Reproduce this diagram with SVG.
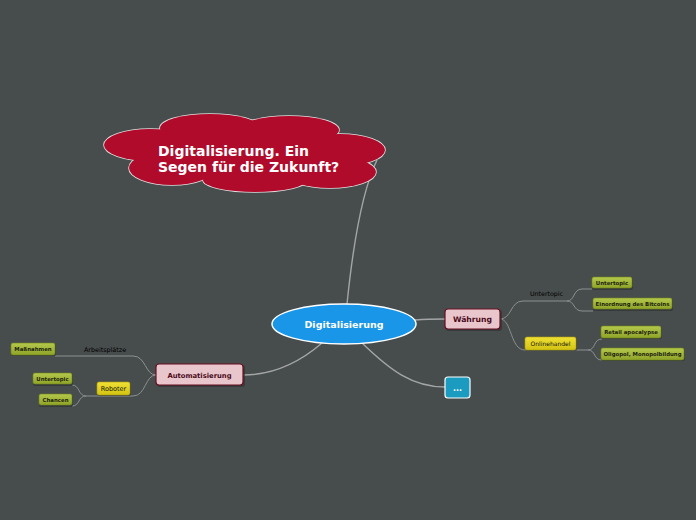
<svg xmlns="http://www.w3.org/2000/svg" width="696" height="520" viewBox="0 0 696 520">
<style>
.main{fill:none;stroke:#a4a6a6;stroke-width:1.4}
.sub{fill:none;stroke:#8c9090;stroke-width:1}
.t{font-family:"DejaVu Sans","Liberation Sans",sans-serif}
.green rect.b{fill:url(#gg);stroke:#74881c;stroke-width:0.6}
.yellow rect.b{fill:url(#yg);stroke:#b0a010;stroke-width:0.6}
.sh{fill:#2f3333;opacity:0.7}
.gt{font-size:5.4px;font-weight:bold;fill:#1e2410}
.pink rect.b{fill:#e8c6cb;stroke:#6a0f24;stroke-width:1.2}
.pt{font-weight:bold;fill:#4c0a1a}
</style>
<defs>
<linearGradient id="gg" x1="0" y1="0" x2="0" y2="1"><stop offset="0" stop-color="#b4c94c"/><stop offset="1" stop-color="#8ea328"/></linearGradient>
<linearGradient id="yg" x1="0" y1="0" x2="0" y2="1"><stop offset="0" stop-color="#efe034"/><stop offset="1" stop-color="#d2c312"/></linearGradient>
</defs>
<rect width="696" height="520" fill="#474c4c"/>

<g id="connectors">
<path class="main" d="M347,304 C352,255 360,195 377,160"/>
<path class="main" d="M415,320 C428,319 435,319 445,319"/>
<path class="main" d="M362,343 C390,370 412,387 445,387"/>
<path class="main" d="M322,343 C300,362 275,375 243,375"/>
<path class="sub" d="M500,319 C512,319 510,301 523,301 L567,301"/>
<path class="sub" d="M500,319 C512,319 510,350 525,350 L588,350"/>
<path class="sub" d="M567,301 C575,301 573,289 582,289 L592,289"/>
<path class="sub" d="M567,301 C575,301 573,311 582,311 L593,311"/>
<path class="sub" d="M588,350 C596,350 593,339 602,339"/>
<path class="sub" d="M588,350 C596,350 593,360 602,360"/>
<path class="sub" d="M156,375 C145,375 146,356 133,356 L55,356"/>
<path class="sub" d="M156,375 C145,375 146,396 133,396 L86,396"/>
<path class="sub" d="M86,396 C78,396 80,385 72,385"/>
<path class="sub" d="M86,396 C78,396 80,406 72,406"/>
</g>

<g id="cloud">
<g fill="none" stroke="#e0e0e0" stroke-width="1.6">
<ellipse cx="150" cy="145" rx="46" ry="16"/>
<ellipse cx="210" cy="128" rx="50" ry="14"/>
<ellipse cx="289" cy="130" rx="50" ry="14"/>
<ellipse cx="340" cy="150" rx="45" ry="16"/>
<ellipse cx="330" cy="172" rx="46" ry="16"/>
<ellipse cx="255" cy="180" rx="52" ry="12"/>
<ellipse cx="172" cy="168" rx="43" ry="17"/>
</g>
<g fill="#b10b2c">
<ellipse cx="150" cy="145" rx="46" ry="16"/>
<ellipse cx="210" cy="128" rx="50" ry="14"/>
<ellipse cx="289" cy="130" rx="50" ry="14"/>
<ellipse cx="340" cy="150" rx="45" ry="16"/>
<ellipse cx="330" cy="172" rx="46" ry="16"/>
<ellipse cx="255" cy="180" rx="52" ry="12"/>
<ellipse cx="172" cy="168" rx="43" ry="17"/>
<ellipse cx="248" cy="153" rx="110" ry="28"/>
</g>
<text class="t" x="158" y="156" font-size="14" font-weight="bold" fill="#ffffff">Digitalisierung. Ein</text>
<text class="t" x="158" y="172" font-size="14" font-weight="bold" fill="#ffffff">Segen für die Zukunft?</text>
</g>

<g id="central">
<ellipse cx="344" cy="324" rx="72" ry="20" fill="#1a96e8" stroke="#ffffff" stroke-width="1.5"/>
<text class="t" x="344" y="327.5" font-size="9.5" font-weight="bold" fill="#ffffff" text-anchor="middle">Digitalisierung</text>
</g>

<g id="waehrung" class="pink">
<rect class="sh" x="446" y="310" width="56" height="21" rx="3"/>
<rect class="b" x="445" y="309" width="55" height="20" rx="3"/>
<text class="t pt" x="472.5" y="322" font-size="7.7" text-anchor="middle">Währung</text>
</g>

<g id="dots">
<rect x="445" y="377" width="25" height="21" rx="3" fill="#1a9bbf" stroke="#ffffff" stroke-width="1.2"/>
<text class="t" x="457.5" y="391" font-size="8" font-weight="bold" fill="#ffffff" text-anchor="middle">...</text>
</g>

<g id="automatisierung" class="pink">
<rect class="sh" x="157" y="365" width="88" height="22" rx="3"/>
<rect class="b" x="156" y="364" width="87" height="21" rx="3"/>
<text class="t pt" x="199.5" y="377.5" font-size="6.8" text-anchor="middle">Automatisierung</text>
</g>

<g id="untertopic-label">
<text class="t" x="546.5" y="296" font-size="6.3" fill="#000" text-anchor="middle">Untertopic</text>
</g>

<g id="untertopic-1" class="green">
<rect class="sh" x="592" y="278" width="41" height="12" rx="2"/>
<rect class="b" x="592" y="277" width="40" height="11" rx="2"/>
<text class="t gt" x="612" y="284.8" text-anchor="middle">Untertopic</text>
</g>

<g id="einordnung" class="green">
<rect class="sh" x="593" y="299" width="80" height="12" rx="2"/>
<rect class="b" x="593" y="298" width="79" height="11" rx="2"/>
<text class="t gt" x="632.5" y="305.8" text-anchor="middle">Einordnung des Bitcoins</text>
</g>

<g id="onlinehandel" class="yellow">
<rect class="sh" x="525" y="338" width="52" height="13" rx="2"/>
<rect class="b" x="525" y="337" width="51" height="13" rx="2"/>
<text class="t" x="550.5" y="345.8" font-size="6" fill="#111" text-anchor="middle">Onlinehandel</text>
</g>

<g id="retail" class="green">
<rect class="sh" x="601" y="327" width="61" height="12" rx="2"/>
<rect class="b" x="601" y="326" width="60" height="12" rx="2"/>
<text class="t gt" x="631" y="334" text-anchor="middle">Retail apocalypse</text>
</g>

<g id="oligopol" class="green">
<rect class="sh" x="601" y="349" width="84" height="12" rx="2"/>
<rect class="b" x="601" y="348" width="83" height="12" rx="2"/>
<text class="t gt" x="642.5" y="356" text-anchor="middle">Oligopol, Monopolbildung</text>
</g>

<g id="arbeitsplaetze-label">
<text class="t" x="105" y="352" font-size="6.4" fill="#000" text-anchor="middle">Arbeitsplätze</text>
</g>

<g id="massnahmen" class="green">
<rect class="sh" x="11" y="344" width="45" height="12" rx="2"/>
<rect class="b" x="11" y="343" width="44" height="12" rx="2"/>
<text class="t gt" x="33" y="351" text-anchor="middle">Maßnahmen</text>
</g>

<g id="roboter" class="yellow">
<rect class="sh" x="97" y="383" width="34" height="13" rx="2"/>
<rect class="b" x="97" y="382" width="33" height="13" rx="2"/>
<text class="t" x="113.5" y="391" font-size="6.5" fill="#111" text-anchor="middle">Roboter</text>
</g>

<g id="untertopic-2" class="green">
<rect class="sh" x="33" y="374" width="40" height="12" rx="2"/>
<rect class="b" x="33" y="373" width="39" height="11" rx="2"/>
<text class="t gt" x="52.5" y="380.8" text-anchor="middle">Untertopic</text>
</g>

<g id="chancen" class="green">
<rect class="sh" x="39" y="395" width="34" height="12" rx="2"/>
<rect class="b" x="39" y="394" width="33" height="11" rx="2"/>
<text class="t gt" x="55.5" y="401.8" text-anchor="middle">Chancen</text>
</g>
</svg>
